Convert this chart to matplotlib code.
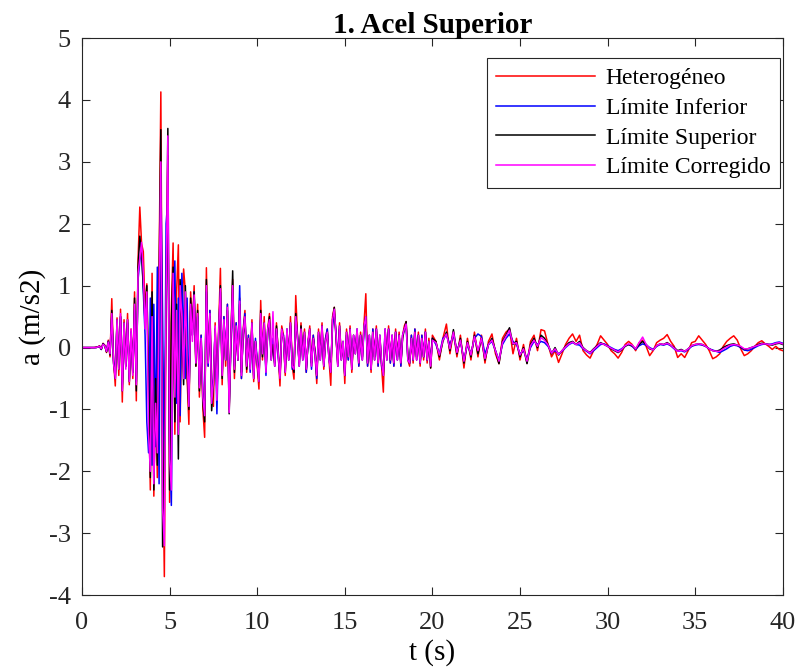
import numpy as np
import matplotlib
matplotlib.use("Agg")
import matplotlib.pyplot as plt

plt.rcParams['font.family'] = ['Liberation Serif', 'DejaVu Serif']
plt.rcParams['axes.unicode_minus'] = False

# time grid: 0.1 s up to 20 s, 0.2 s afterwards
t = np.concatenate([np.round(np.arange(0, 20.05, 0.1), 2),
                    np.round(np.arange(20.2, 40.05, 0.2), 2)])

# Heterogéneo (red)
hetero = [
    0, 0, 0, 0, 0, 0, 0, 0, 0.01, 0.01,
    0.03, -0.02, 0.07, 0.04, -0.08, 0.12, -0.15, 0.79, -0.2, -0.62,
    0.48, -0.45, 0.62, -0.88, 0.45, -0.3, 0.55, -0.6, 0.3, -0.5,
    0.9, -0.86, 1.42, 2.27, 1.68, 1.55, 0.6, 1.03, -0.8, -2.3,
    1.2, -2.4, -0.6, -2.1, 1.3, 4.13, -1.5, -3.7, 0.8, 3.1,
    -2.5, 0.6, 1.69, -1.4, 0.9, 1.66, -1.2, 0.5, 1.27, 0.9,
    -0.5, -1.24, 0.9, 0.3, 1.0, -0.3, 0.7, -0.8, 0.2, -1.0,
    -1.45, 1.29, -0.3, 0.6, -0.5, -0.95, 0.4, -0.8, 0.3, 1.28,
    -0.6, 0.5, -0.3, 0.7, -1.0, 0.2, 1.1, -0.5, 0.4, -0.2,
    0.8, -0.5, 0.3, 0.6, -0.4, 0.2, -0.3, 0.45, -0.55, 0.1,
    -0.3, -0.67, 0.76, -0.2, 0.5, -0.4, 0.3, 0.55, -0.2, 0.1,
    -0.3, 0.4, -0.1, -0.62, 0.35, 0.2, -0.45, 0.3, -0.2, 0.5,
    -0.3, -0.51, 0.84, 0.2, -0.3, 0.4, -0.2, 0.3, -0.4, 0.1,
    0.35, -0.3, 0.2, -0.1, -0.58, 0.3, -0.2, 0.4, -0.35, 0.15,
    0.3, -0.2, -0.61, 0.5, 0.65, 0.2, -0.3, 0.4, -0.2, 0.1,
    -0.58, 0.3, -0.2, 0.35, -0.4, 0.2, -0.1, 0.3, -0.3, 0.25,
    -0.2, 0.4, 0.87, -0.3, 0.2, -0.4, 0.3, -0.2, 0.35, -0.3,
    0.2, -0.3, -0.72, 0.3, -0.2, 0.35, -0.25, 0.2, -0.3, 0.3,
    -0.2, 0.25, -0.3, 0.2, 0.35, 0.42, -0.2, -0.3, 0.2, -0.25,
    0.3, -0.2, 0.25, -0.3, 0.2, -0.2, 0.3, -0.25, 0.15, -0.33,
    0.2,
    0.1, -0.2, 0.15, 0.38, -0.1, 0.25, -0.15, 0.2, -0.33, 0.15,
    -0.2, 0.25, -0.15, 0.2, -0.25, 0.1, 0.22, -0.1, -0.26, 0.15,
    0.25, 0.3, -0.1, 0.15, -0.2, 0.05, -0.25, 0.1, 0.2, -0.05,
    0.29, 0.27, 0.05, -0.15, -0.05, -0.24, -0.1, 0.05, 0.15, 0.22,
    0.1, 0.2, -0.05, -0.12, -0.17, -0.05, 0.05, 0.19, 0.12, 0.05,
    -0.05, -0.1, -0.17, -0.08, 0.05, 0.1, 0.05, -0.05, 0.08, 0.12,
    0.02, -0.13, -0.05, 0.08, 0.12, 0.15, 0.21, 0.1, 0.02, -0.16,
    -0.1, -0.16, -0.05, 0.08, 0.1, 0.19, 0.12, 0.05, -0.05, -0.18,
    -0.15, -0.1, 0.02, 0.1, 0.15, 0.19, 0.12, -0.02, -0.13, -0.1,
    -0.05, 0.02, 0.08, 0.11, 0.06, 0.02, -0.03, 0.02, -0.03, -0.05,
]

# Límite Inferior (blue)
inferior = [
    0, 0, 0, 0, 0, 0, 0, 0, 0, 0.01,
    0.02, -0.03, 0.06, 0.03, -0.06, 0.1, -0.1, 0.5, -0.2, -0.45,
    0.4, -0.3, 0.5, -0.6, 0.35, -0.3, 0.4, -0.5, 0.25, -0.4,
    0.6, -0.55, 1.1, 1.4, 1.6, 0.9, 0.2, -1.2, -1.7, 0.8,
    -1.9, 0.7, -1.6, 1.3, -2.2, 2.8, 0.5, -2.0, 2.0, 2.4,
    -1.5, -2.55, 0.6, 1.4, -0.9, 0.8, -1.1, 1.2, 0.4, -0.5,
    0.8, -0.9, 0.6, 0.2, 0.9, -0.2, 0.5, -0.6, 0.2, -0.7,
    -1.0, 0.9, -0.3, 0.6, -0.8, -0.5, 0.3, -1.07, 0.2, 0.9,
    -0.4, 0.5, -0.2, 0.7, -0.95, 0.1, 0.8, -0.3, 0.4, -0.2,
    1.0, -0.5, 0.25, 0.55, -0.3, 0.2, -0.4, 0.35, -0.45, 0.15,
    -0.2, -0.5, 0.45, -0.1, 0.35, -0.45, 0.3, 0.4, -0.2, 0.15,
    -0.3, 0.3, -0.15, -0.45, 0.25, 0.2, -0.35, 0.3, -0.2, 0.35,
    -0.35, -0.3, 0.45, 0.2, -0.3, 0.3, -0.2, 0.2, -0.4, 0.1,
    0.25, -0.35, 0.2, -0.1, -0.5, 0.2, -0.2, 0.3, -0.3, 0.15,
    0.3, -0.2, -0.35, 0.35, 0.55, 0.25, -0.3, 0.3, -0.2, 0.1,
    -0.45, 0.2, -0.2, 0.3, -0.3, 0.2, -0.1, 0.3, -0.3, 0.2,
    -0.2, 0.3, 0.45, -0.3, 0.2, -0.35, 0.3, -0.2, 0.3, -0.3,
    0.2, -0.3, -0.4, 0.3, -0.2, 0.3, -0.25, 0.2, -0.3, 0.25,
    -0.2, 0.2, -0.3, 0.2, 0.3, 0.35, -0.2, -0.25, 0.2, -0.2,
    0.3, -0.2, 0.2, -0.25, 0.2, -0.15, 0.25, -0.2, 0.1, -0.25,
    0.15,
    0.05, -0.1, 0.15, 0.2, 0.05, 0.2, -0.05, 0.1, -0.2, 0.05,
    -0.1, 0.15, 0.22, 0.18, -0.1, 0.05, 0.1, -0.05, -0.2, 0.05,
    0.15, 0.22, 0.1, 0.05, -0.1, -0.05, -0.18, 0.0, 0.1, 0.05,
    0.1, 0.08, 0.02, -0.08, -0.05, -0.1, -0.06, 0.0, 0.05, 0.08,
    0.05, 0.04, -0.02, -0.06, -0.1, -0.05, 0.0, 0.05, 0.06, 0.03,
    0.0, -0.03, -0.05, -0.02, 0.03, 0.05, 0.02, -0.03, 0.03, 0.06,
    0.04, 0.0, -0.03, 0.02, 0.05, 0.04, 0.06, 0.03, -0.02, -0.06,
    -0.05, -0.07, -0.03, 0.02, 0.04, 0.05, 0.04, 0.02, -0.02, -0.04,
    -0.06, -0.08, -0.05, -0.02, 0.02, 0.04, 0.03, 0.0, -0.04, -0.05,
    -0.03, 0.0, 0.03, 0.05, 0.06, 0.05, 0.06, 0.08, 0.09, 0.07,
]

# Límite Superior (black)
superior = [
    0, 0, 0, 0, 0, 0, 0, 0, 0, 0.01,
    0.02, -0.03, 0.06, 0.03, -0.07, 0.1, -0.12, 0.6, -0.25, -0.5,
    0.45, -0.35, 0.5, -0.7, 0.4, -0.3, 0.45, -0.55, 0.25, -0.4,
    0.8, -0.7, 1.3, 1.8, 1.5, 1.0, 0.4, 1.0, -0.5, -2.1,
    0.9, -2.3, -0.5, -1.9, 1.1, 3.52, -3.22, -1.5, 0.5, 3.54,
    -2.3, 0.4, 1.3, -1.2, 0.7, -1.8, 1.1, 0.3, -0.6, 1.0,
    -0.4, -1.0, 0.8, 0.2, 0.9, -0.3, 0.6, -0.7, 0.1, -0.9,
    -1.2, 1.1, -0.2, 0.5, -1.02, -0.6, 0.3, -0.7, 0.2, 1.0,
    -0.5, 0.4, -0.2, 0.6, -1.07, 0.1, 1.24, -0.4, 0.3, -0.2,
    0.7, -0.4, 0.2, 0.5, -0.35, 0.15, -0.3, 0.4, -0.5, 0.1,
    -0.25, -0.55, 0.6, -0.15, 0.4, -0.35, 0.25, 0.5, -0.15, 0.05,
    -0.25, 0.35, -0.05, -0.5, 0.3, 0.15, -0.4, 0.25, -0.15, 0.4,
    -0.25, -0.4, 0.55, 0.15, -0.25, 0.35, -0.15, 0.25, -0.35, 0.05,
    0.3, -0.25, 0.15, -0.05, -0.45, 0.25, -0.15, 0.35, -0.3, 0.1,
    0.25, -0.15, -0.4, 0.45, 0.65, 0.15, -0.25, 0.35, -0.15, 0.05,
    -0.45, 0.25, -0.15, 0.3, -0.35, 0.15, -0.05, 0.25, -0.25, 0.2,
    -0.15, 0.35, 0.5, -0.25, 0.15, -0.35, 0.25, -0.15, 0.3, -0.25,
    0.15, -0.25, -0.45, 0.25, -0.15, 0.3, -0.2, 0.15, -0.25, 0.25,
    -0.15, 0.2, -0.25, 0.15, 0.3, 0.42, -0.15, -0.25, 0.15, -0.2,
    0.25, -0.15, 0.2, -0.25, 0.15, -0.15, 0.25, -0.2, 0.1, -0.33,
    0.15,
    0.1, -0.15, 0.1, 0.25, -0.05, 0.29, -0.1, 0.15, -0.25, 0.1,
    -0.15, 0.2, -0.1, 0.15, -0.2, 0.05, 0.15, -0.05, -0.26, 0.1,
    0.2, 0.32, 0.05, 0.1, -0.15, 0.0, -0.26, 0.05, 0.15, 0.0,
    0.2, 0.15, 0.05, -0.1, 0.0, -0.12, -0.05, 0.02, 0.08, 0.1,
    0.05, 0.1, 0.0, -0.05, -0.08, -0.02, 0.03, 0.08, 0.05, 0.02,
    -0.02, -0.05, -0.08, -0.04, 0.02, 0.05, 0.03, -0.02, 0.05, 0.1,
    0.05, -0.02, -0.04, 0.03, 0.06, 0.05, 0.08, 0.04, 0.0, -0.05,
    -0.03, -0.06, -0.02, 0.03, 0.05, 0.06, 0.05, 0.02, -0.02, -0.05,
    -0.06, -0.04, 0.0, 0.03, 0.05, 0.06, 0.04, 0.01, -0.03, -0.02,
    0.0, 0.02, 0.05, 0.07, 0.06, 0.05, 0.04, 0.06, 0.07, 0.05,
]

# Límite Corregido (magenta)
corregido = [
    0, 0, 0, 0, 0, 0, 0, 0, 0, 0.01,
    0.02, -0.02, 0.05, 0.03, -0.06, 0.09, -0.1, 0.55, -0.25, -0.5,
    0.45, -0.35, 0.55, -0.7, 0.4, -0.35, 0.45, -0.55, 0.3, -0.45,
    0.7, -0.6, 1.2, 1.45, 1.7, 1.2, 0.3, 0.9, -1.4, -2.0,
    0.5, -2.2, -0.9, -1.7, 0.8, 3.0, -2.6, -3.2, 0.9, 3.42,
    -1.8, -2.3, 1.2, -0.8, 0.6, -1.4, 1.0, 0.5, -0.5, 0.9,
    -0.2, -0.95, 0.7, 0.1, 0.85, -0.25, 0.55, -0.65, 0.15, -0.8,
    -1.1, 1.0, -0.25, 0.55, -0.9, -0.55, 0.35, -0.85, 0.25, 0.95,
    -0.45, 0.45, -0.2, 0.65, -1.05, 0.15, 1.0, -0.35, 0.35, -0.2,
    0.75, -0.45, 0.25, 0.5, -0.3, 0.15, -0.35, 0.4, -0.5, 0.1,
    -0.25, -0.55, 0.55, -0.1, 0.4, -0.4, 0.3, 0.45, -0.2, 0.58,
    -0.3, 0.3, -0.1, -0.5, 0.3, 0.15, -0.4, 0.3, -0.2, 0.4,
    -0.3, -0.35, 0.5, 0.15, -0.3, 0.3, -0.2, 0.25, -0.35, 0.1,
    0.3, -0.3, 0.15, -0.1, -0.45, 0.25, -0.2, 0.35, -0.3, 0.1,
    0.25, -0.2, -0.4, 0.45, 0.62, 0.2, -0.3, 0.35, -0.2, 0.1,
    -0.45, 0.25, -0.15, 0.3, -0.35, 0.2, -0.1, 0.3, -0.25, 0.2,
    -0.2, 0.35, 0.5, -0.25, 0.2, -0.35, 0.25, -0.2, 0.3, -0.25,
    0.2, -0.25, -0.45, 0.3, -0.2, 0.3, -0.2, 0.2, -0.25, 0.25,
    -0.2, 0.2, -0.25, 0.2, 0.3, 0.38, -0.2, -0.25, 0.15, -0.2,
    0.25, -0.2, 0.2, -0.25, 0.15, -0.15, 0.25, -0.2, 0.1, -0.3,
    0.12,
    0.08, -0.12, 0.12, 0.22, -0.02, 0.25, -0.08, 0.12, -0.22, 0.08,
    -0.12, 0.18, -0.05, 0.15, -0.18, 0.05, 0.12, -0.05, -0.22, 0.08,
    0.18, 0.28, 0.06, 0.08, -0.12, -0.02, -0.22, 0.03, 0.12, 0.02,
    0.16, 0.12, 0.04, -0.09, -0.02, -0.11, -0.05, 0.01, 0.06, 0.09,
    0.05, 0.08, -0.01, -0.05, -0.09, -0.03, 0.02, 0.07, 0.05, 0.02,
    -0.01, -0.04, -0.07, -0.03, 0.03, 0.06, 0.04, -0.02, 0.08, 0.17,
    0.05, -0.01, -0.04, 0.03, 0.06, 0.05, 0.07, 0.04, -0.01, -0.06,
    -0.04, -0.06, -0.02, 0.03, 0.05, 0.06, 0.05, 0.02, -0.02, -0.05,
    -0.06, -0.06, -0.02, 0.01, 0.04, 0.05, 0.04, 0.02, -0.02, -0.02,
    0.0, 0.02, 0.04, 0.06, 0.06, 0.05, 0.05, 0.07, 0.08, 0.06,
]

labels = ['Heterogéneo', 'Límite Inferior', 'Límite Superior', 'Límite Corregido']
colors = ['#ff0000', '#0000ff', '#000000', '#ff00ff']
series = [hetero, inferior, superior, corregido]

fig = plt.figure(figsize=(8, 6.68), dpi=100)
ax = fig.add_axes([0.1025, 0.109, 0.876, 0.834])

for y, c, lab in zip(series, colors, labels):
    ax.plot(t, y, color=c, lw=1.1, label=lab)

ax.set_xlim(0, 40)
ax.set_ylim(-4, 5)
ax.set_xticks(np.arange(0, 41, 5))
ax.set_yticks(np.arange(-4, 6, 1))
ax.tick_params(direction='in', top=True, right=True, length=6, width=0.8,
               labelsize=19, colors='#262626')
ax.tick_params(axis='x', pad=12)
ax.tick_params(axis='y', pad=8)
for s in ax.spines.values():
    s.set_color('#262626')
    s.set_linewidth(0.8)

ax.set_title('1. Acel Superior', fontsize=21, fontweight='bold', pad=4)
ax.set_xlabel('t (s)', fontsize=21, labelpad=4)
ax.set_ylabel('a (m/s2)', fontsize=21, labelpad=2)

leg = ax.legend(loc='upper right', bbox_to_anchor=(0.996, 0.964), borderaxespad=0,
                fontsize=17, fancybox=False, framealpha=1, edgecolor='#262626',
                handlelength=4.2, labelspacing=0.35, handletextpad=0.45,
                borderpad=0.4)
leg.get_frame().set_linewidth(0.8)

fig.savefig('out.png', dpi=100)
